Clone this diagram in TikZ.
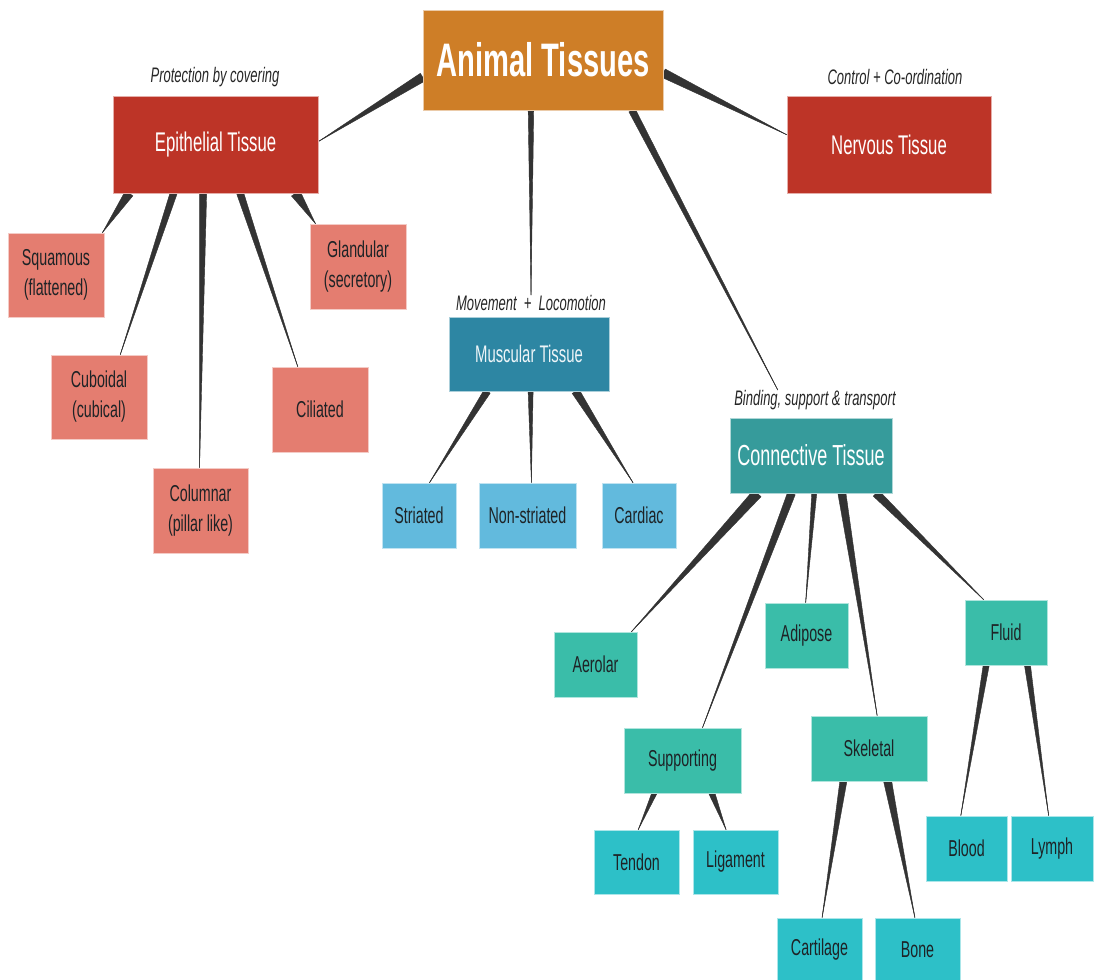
\documentclass[tikz,border=0pt]{standalone}
\usepackage{fontspec}
\setmainfont{Liberation Sans}[FakeStretch=0.62]
\usetikzlibrary{calc,backgrounds}

\definecolor{rootc}{HTML}{CE7E27}
\definecolor{redc}{HTML}{BD3427}
\definecolor{pinkc}{HTML}{E47D70}
\definecolor{musc}{HTML}{2D86A3}
\definecolor{muskid}{HTML}{62BADD}
\definecolor{conc}{HTML}{369B9B}
\definecolor{conkid}{HTML}{3ABDA9}
\definecolor{conleaf}{HTML}{2DC0C8}
\definecolor{wirec}{HTML}{333333}
\definecolor{inkc}{HTML}{1E2326}

\tikzset{
  box/.style={rectangle, inner sep=0pt, align=center, draw=white!60!#1, line width=0.6pt, fill=#1},
  head/.style={box=#1, text=white, font=\fontsize{27}{32}\selectfont},
  kid/.style={box=#1, text=inkc, font=\fontsize{23}{30}\selectfont},
  note/.style={inner sep=0pt, text=black!85, font=\itshape\fontsize{21}{24}\selectfont},
  wire/.style={fill=wirec, draw=wirec},
}

% tapered connector: parent edge point (#1 -> #3 at fraction #2),
% child edge point (#4 -> #6 at fraction #5), half width #7 at the parent
\newcommand\link[7]{%
  \coordinate (ls) at ($(#1)!#2!(#3)$);
  \coordinate (le) at ($(#4)!#5!(#6)$);
  \fill[wire] ($(ls)!#7!90:(le)$) -- ($(ls)!#7!-90:(le)$) -- (le) -- cycle;
  \draw[wire, line width=0.6pt] (ls) -- (le);}

\begin{document}
\begin{tikzpicture}[x=1pt, y=-1pt]
\useasboundingbox (0,0) rectangle (1098,980);

% root
\node[box=rootc, text=white, font=\bfseries\fontsize{47}{52}\selectfont,
      minimum width=240pt, minimum height=100pt] (root) at (543,60) {Animal Tissues};

% first level
\node[head=redc, minimum width=205pt, minimum height=97pt] (epi) at (215.5,144.5) {Epithelial Tissue};
\node[head=redc, minimum width=204pt, minimum height=97pt] (nerv) at (889,144.5) {Nervous Tissue};
\node[head=musc, text=white!92!musc, font=\fontsize{24}{28}\selectfont,
      minimum width=160pt, minimum height=74pt] (mus) at (529,354) {Muscular Tissue};
\node[head=conc, font=\fontsize{29}{34}\selectfont,
      minimum width=162pt, minimum height=75pt] (con) at (811,455.5) {Connective Tissue};

% notes
\node[note] (prot) at (215,77) {Protection by covering};
\node[note] (ctrl) at (895,77) {Control + Co-ordination};
\node[note] (musl) at (531,303) {Movement \,+\, Locomotion};
\node[note] (conl) at (815,400) {Binding, support \& transport};

% epithelial kinds
\node[kid=pinkc, minimum width=96pt, minimum height=84pt] (squ) at (56,275) {Squamous\\(flattened)};
\node[kid=pinkc, minimum width=96pt, minimum height=84pt] (cub) at (99,397) {Cuboidal\\(cubical)};
\node[kid=pinkc, minimum width=95pt, minimum height=85pt] (col) at (200.5,510.5) {Columnar\\(pillar like)};
\node[kid=pinkc, minimum width=96pt, minimum height=85pt] (cil) at (320,409.5) {Ciliated};
\node[kid=pinkc, minimum width=96pt, minimum height=85pt] (gla) at (358,266.5) {Glandular\\(secretory)};

% muscular kinds
\node[kid=muskid, minimum width=74pt, minimum height=65pt] (str) at (419,515.5) {Striated};
\node[kid=muskid, minimum width=97pt, minimum height=65pt] (non) at (527.5,515.5) {Non-striated};
\node[kid=muskid, minimum width=74pt, minimum height=65pt] (car) at (639,515.5) {Cardiac};

% connective kinds
\node[kid=conkid, minimum width=83pt, minimum height=65pt] (aer) at (595.5,664.5) {Aerolar};
\node[kid=conkid, minimum width=83pt, minimum height=65pt] (adi) at (806.5,635.5) {Adipose};
\node[kid=conkid, minimum width=82pt, minimum height=65pt] (flu) at (1006,632.5) {Fluid};
\node[kid=conkid, minimum width=117pt, minimum height=65pt] (sup) at (682.5,760.5) {Supporting};
\node[kid=conkid, minimum width=116pt, minimum height=65pt] (ske) at (869,748.5) {Skeletal};

% leaves
\node[kid=conleaf, minimum width=85pt, minimum height=64pt] (ten) at (636.5,862) {Tendon};
\node[kid=conleaf, minimum width=85pt, minimum height=64pt] (lig) at (735.5,862) {Ligament};
\node[kid=conleaf, minimum width=85pt, minimum height=64pt] (cart) at (819.5,950) {Cartilage};
\node[kid=conleaf, minimum width=85pt, minimum height=64pt] (bone) at (917.5,950) {Bone};
\node[kid=conleaf, minimum width=81pt, minimum height=65pt] (blood) at (966.5,848.5) {Blood};
\node[kid=conleaf, minimum width=82pt, minimum height=65pt] (lymph) at (1052,848.5) {Lymph};

\begin{pgfonlayer}{background}
% root branches
\link{root.north west}{0.67}{root.south west}{epi.north east}{0.47}{epi.south east}{4.5pt}
\link{root.north east}{0.63}{root.south east}{nerv.north west}{0.40}{nerv.south west}{4.5pt}
\link{root.south west}{0.45}{root.south east}{musl.north west}{0.5}{musl.north east}{2.8pt}
\link{root.south west}{0.87}{root.south east}{conl.north west}{0.27}{conl.north east}{3.5pt}

% epithelial branches
\link{epi.south west}{0.08}{epi.south east}{squ.north west}{0.98}{squ.north east}{4.5pt}
\link{epi.south west}{0.296}{epi.south east}{cub.north west}{0.72}{cub.north east}{3.5pt}
\link{epi.south west}{0.44}{epi.south east}{col.north west}{0.49}{col.north east}{3.5pt}
\link{epi.south west}{0.62}{epi.south east}{cil.north west}{0.27}{cil.north east}{3.5pt}
\link{epi.south west}{0.89}{epi.south east}{gla.north west}{0.06}{gla.north east}{5pt}

% muscular branches
\link{mus.south west}{0.24}{mus.south east}{str.north west}{0.64}{str.north east}{3.5pt}
\link{mus.south west}{0.51}{mus.south east}{non.north west}{0.54}{non.north east}{2.5pt}
\link{mus.south west}{0.79}{mus.south east}{car.north west}{0.42}{car.north east}{4pt}

% connective branches
\link{con.south west}{0.17}{con.south east}{aer.north west}{0.93}{aer.north east}{5pt}
\link{con.south west}{0.38}{con.south east}{sup.north west}{0.67}{sup.north east}{4pt}
\link{con.south west}{0.52}{con.south east}{adi.north west}{0.49}{adi.north east}{2.5pt}
\link{con.south west}{0.69}{con.south east}{ske.north west}{0.57}{ske.north east}{4pt}
\link{con.south west}{0.90}{con.south east}{flu.north west}{0.23}{flu.north east}{4pt}

% second-level branches
\link{sup.south west}{0.26}{sup.south east}{ten.north west}{0.52}{ten.north east}{2.5pt}
\link{sup.south west}{0.75}{sup.south east}{lig.north west}{0.39}{lig.north east}{3pt}
\link{ske.south west}{0.28}{ske.south east}{cart.north west}{0.53}{cart.north east}{3.5pt}
\link{ske.south west}{0.66}{ske.south east}{bone.north west}{0.47}{bone.north east}{4pt}
\link{flu.south west}{0.26}{flu.south east}{blood.north west}{0.43}{blood.north east}{3pt}
\link{flu.south west}{0.76}{flu.south east}{lymph.north west}{0.46}{lymph.north east}{3pt}
\end{pgfonlayer}
\end{tikzpicture}
\end{document}
